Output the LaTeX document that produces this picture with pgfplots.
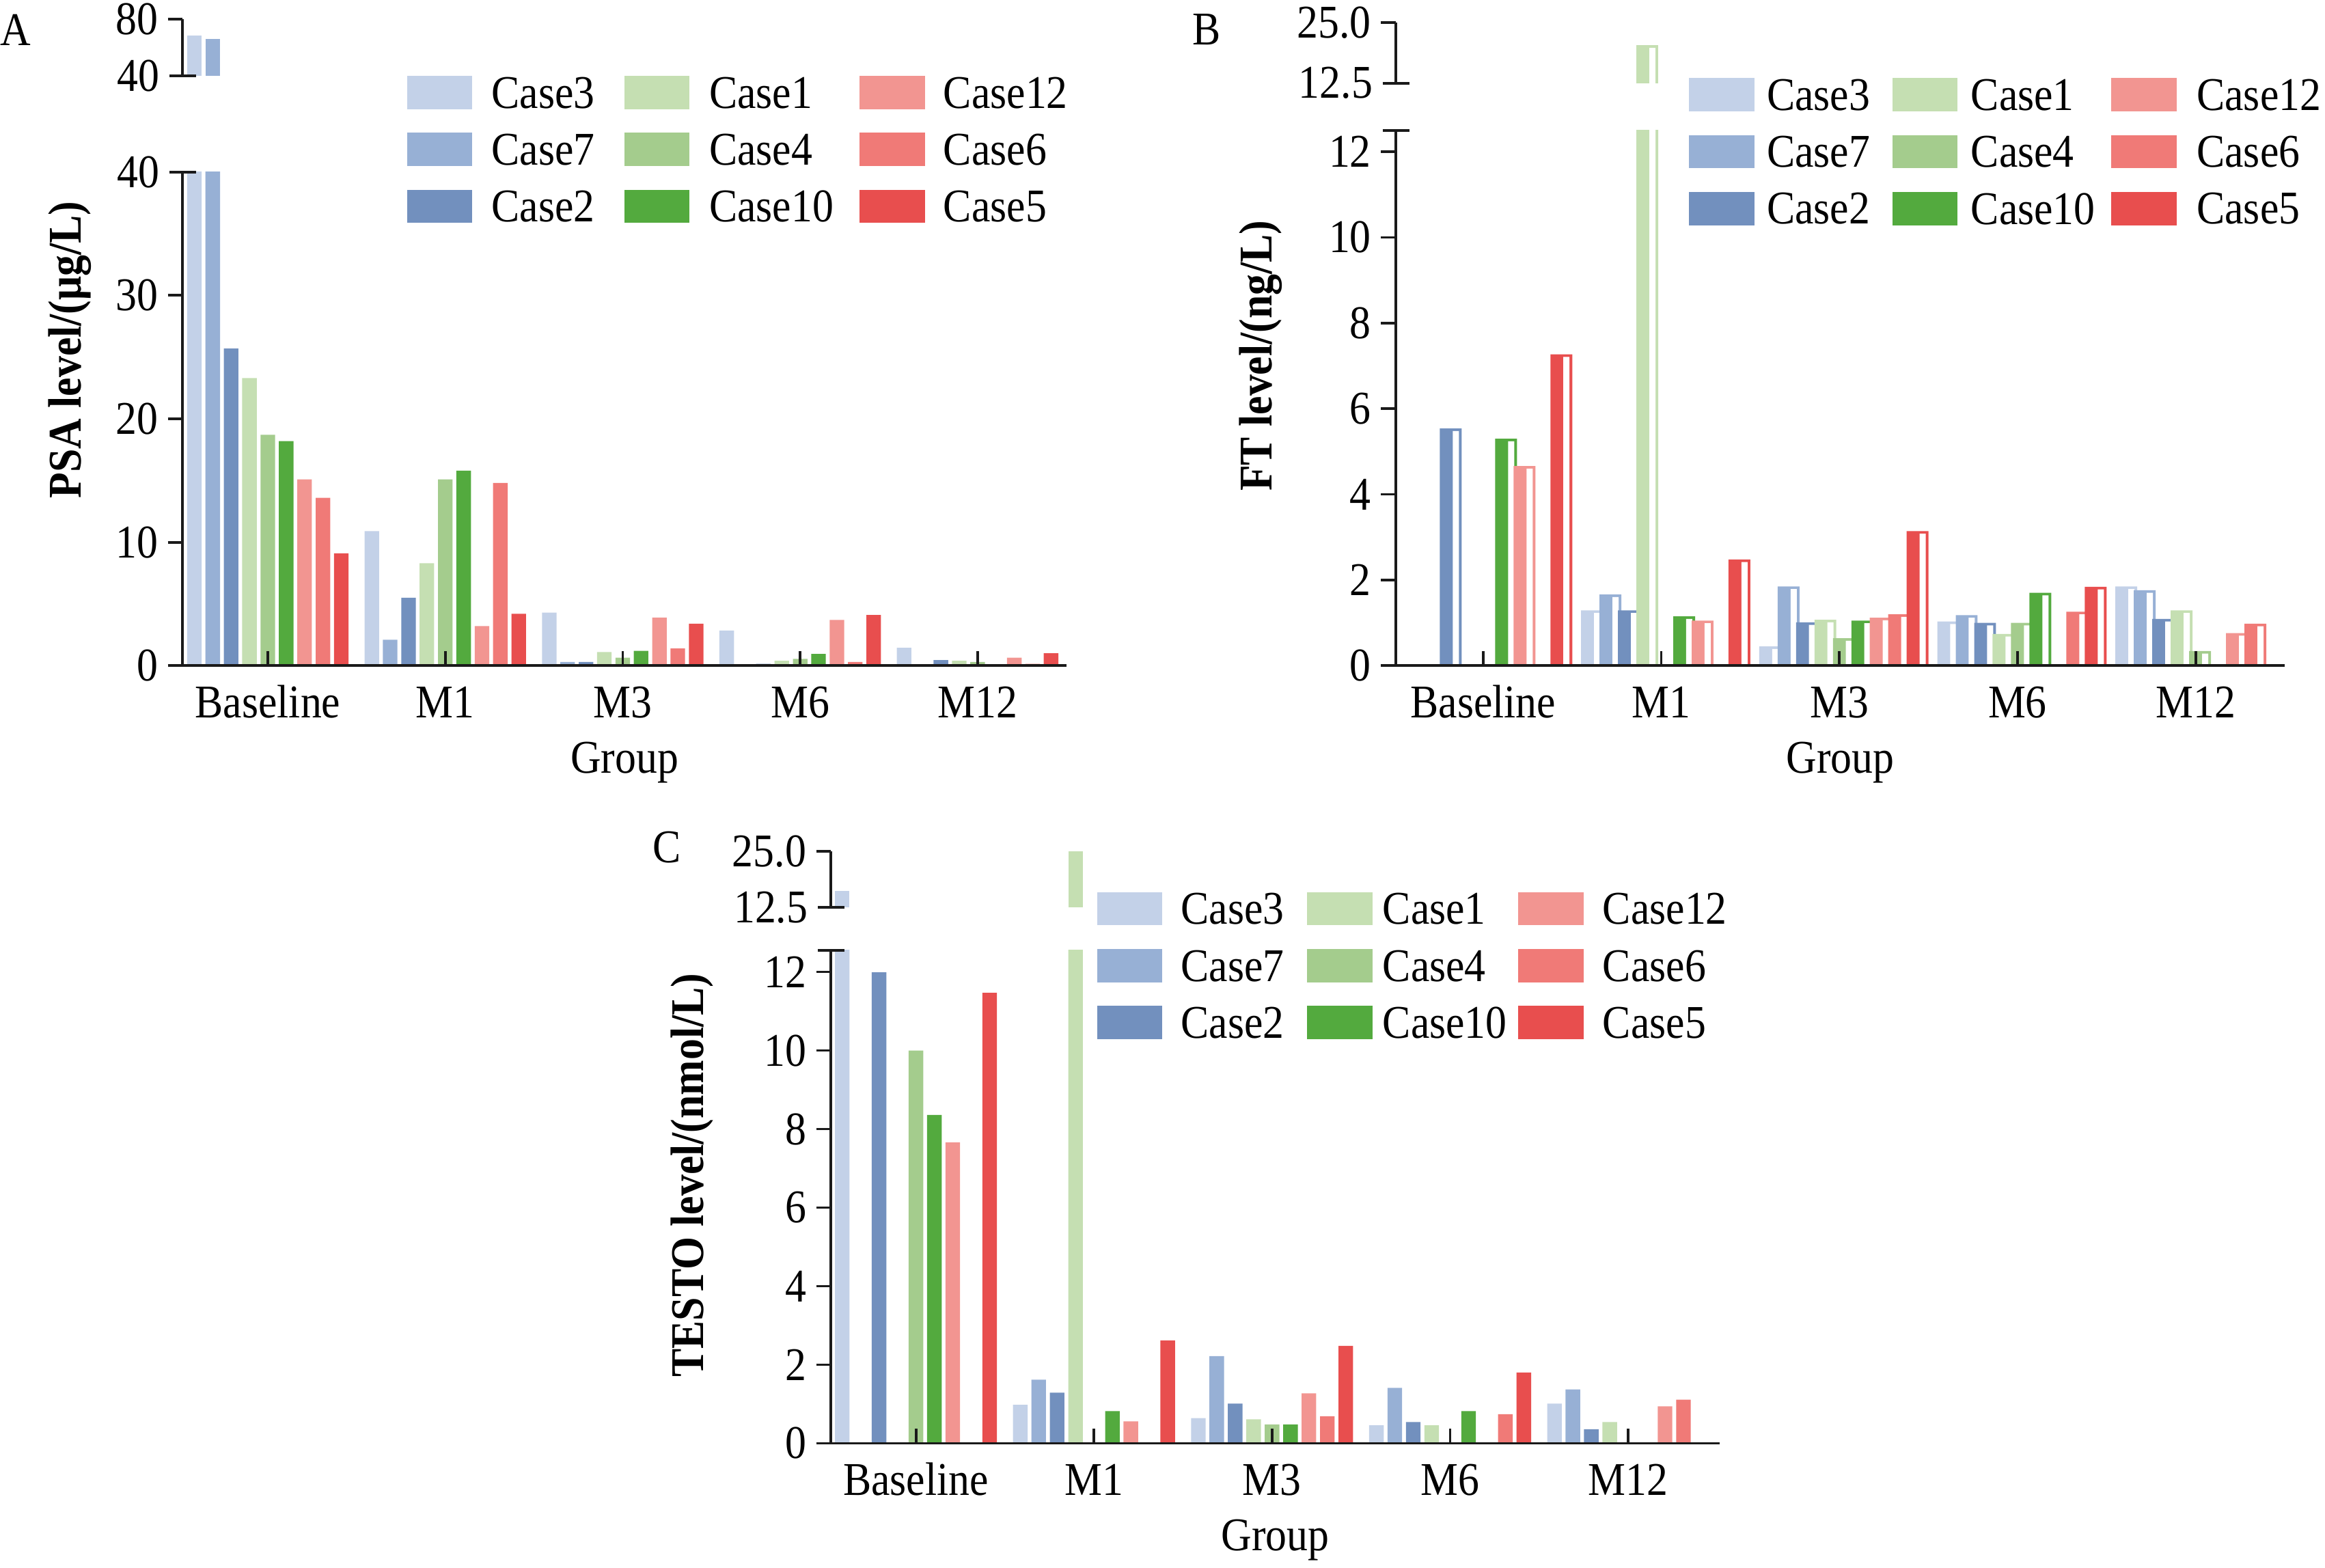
\documentclass[border=0pt]{standalone}
\usepackage{fontspec}
\setmainfont{Liberation Serif}[FakeStretch=0.9]
\usepackage{pgfplots}
\pgfplotsset{compat=1.18}
\definecolor{cA}{RGB}{195,209,232}% Case3
\definecolor{cB}{RGB}{151,176,213}% Case7
\definecolor{cC}{RGB}{114,144,190}% Case2
\definecolor{cD}{RGB}{197,223,178}% Case1
\definecolor{cE}{RGB}{164,204,141}% Case4
\definecolor{cF}{RGB}{83,170,62}%   Case10
\definecolor{cG}{RGB}{242,149,145}% Case12
\definecolor{cH}{RGB}{240,122,119}% Case6
\definecolor{cI}{RGB}{232,78,78}%   Case5
\definecolor{axc}{RGB}{26,26,26}
\newcommand\fs{\fontsize{9}{10.8}\selectfont}
\pgfplotsset{
 base/.style={scale only axis, enlargelimits=false, clip=true, font=\fs,
   axis on top,
   axis line style={line width=0.5pt, axc},
   tick style={line width=0.5pt, axc},
   major tick length=0.1cm,
   /pgf/number format/assume math mode=true,
   yticklabel style={inner xsep=0.06cm},
   ytick align=outside, xtick align=inside,
   extra y tick style={tick align=center, major tick length=0.18cm}},
 lower/.style={axis x line*=bottom, axis y line*=left,
   xtick={0,1,2,3,4}, xticklabels={Baseline,M1,M3,M6,M12},
   xticklabel style={anchor=base, yshift=-0.35cm},
   xlabel={Group},
   xlabel style={at={(axis description cs:0.5,0)}, anchor=base, yshift=-0.725cm},
   legend columns=3, transpose legend, legend cell align=left},
 upper/.style={axis x line=none, axis y line*=left, xtick=\empty},
 sw/.style={legend image code/.code={\fill[##1] (0cm,-0.112cm) rectangle (0.44cm,0.112cm);}},
 bb/.style 2 args={ybar, bar width=0.082, bar shift=#1, fill=#2, draw=none, sw},
 bc/.style 2 args={ybar, bar width=0.1226, bar shift=#1, fill=#2, draw=none, sw},
 bw/.style={ybar, bar width=0.0345, bar shift=#1, fill=white, draw=none, forget plot},
 lg/.style n args={7}{legend style={at={(axis description cs:#1,#2)}, anchor=north west,
   draw=none, fill=none, inner sep=0pt, outer sep=0pt, row sep=0.16cm, font=\fs,
   nodes={inner sep=0pt, text depth=0pt},
   /tikz/column 1/.style={column sep=#3},
   /tikz/column 2/.style={column sep=#4},
   /tikz/column 3/.style={column sep=#5},
   /tikz/column 4/.style={column sep=#6},
   /tikz/column 5/.style={column sep=#7}}},
}
\begin{document}
\begin{tikzpicture}
\useasboundingbox (0,0) rectangle (15.682,10.576);
\node[font=\fs] at (0.107,10.376) {A};
\node[font=\fs] at (8.137,10.376) {B};
\node[font=\fs] at (4.497,4.860) {C};

% ---------------- Panel A ----------------
\begin{axis}[base, lower, at={(1.232cm,6.086cm)}, anchor=south west,
  width=5.96cm, height=3.33cm, xmin=-0.48, xmax=4.5, ymin=0, ymax=40,
  ytick={0,10,20,30}, extra y ticks={40},
  ylabel={\bfseries PSA level/(μg/L)},
  ylabel style={at={(axis description cs:-0.1275,0.6396)}, anchor=center},
  lg={0.254}{1.1946}{0.13cm}{0.20cm}{0.133cm}{0.175cm}{0.126cm}]
\addplot[bb={-0.414}{cA}] coordinates {(0,68.5)(1,10.9)(2,4.3)(3,2.85)(4,1.45)};
\addlegendentry{Case3}
\addplot[bb={-0.3105}{cB}] coordinates {(0,66)(1,2.1)(2,0.3)(3,0.1)(4,0.1)};
\addlegendentry{Case7}
\addplot[bb={-0.207}{cC}] coordinates {(0,25.7)(1,5.5)(2,0.3)(3,0.15)(4,0.45)};
\addlegendentry{Case2}
\addplot[bb={-0.1035}{cD}] coordinates {(0,23.3)(1,8.3)(2,1.1)(3,0.4)(4,0.4)};
\addlegendentry{Case1}
\addplot[bb={0}{cE}] coordinates {(0,18.7)(1,15.1)(2,0.65)(3,0.55)(4,0.3)};
\addlegendentry{Case4}
\addplot[bb={0.1035}{cF}] coordinates {(0,18.2)(1,15.8)(2,1.2)(3,0.95)};
\addlegendentry{Case10}
\addplot[bb={0.207}{cG}] coordinates {(0,15.1)(1,3.2)(2,3.9)(3,3.7)(4,0.65)};
\addlegendentry{Case12}
\addplot[bb={0.3105}{cH}] coordinates {(0,13.6)(1,14.8)(2,1.4)(3,0.3)(4,0.15)};
\addlegendentry{Case6}
\addplot[bb={0.414}{cI}] coordinates {(0,9.1)(1,4.2)(2,3.4)(3,4.1)(4,1.0)};
\addlegendentry{Case5}
\end{axis}
\begin{axis}[base, upper, at={(1.232cm,10.066cm)}, anchor=south west,
  width=5.96cm, height=0.38cm, xmin=-0.48, xmax=4.5, ymin=40, ymax=80,
  ytick={80}, extra y ticks={40}]
\addplot[bb={-0.414}{cA}] coordinates {(0,68.5)};
\addplot[bb={-0.3105}{cB}] coordinates {(0,66)};
\end{axis}

% ---------------- Panel B ----------------
\begin{axis}[base, lower, at={(9.415cm,6.086cm)}, anchor=south west,
  width=5.995cm, height=3.611cm, xmin=-0.49, xmax=4.5, ymin=0, ymax=12.5,
  ytick={0,2,...,12}, extra y ticks={12.5}, extra y tick labels={},
  ylabel={\bfseries FT level/(ng/L)},
  ylabel style={at={(axis description cs:-0.1519,0.5788)}, anchor=center},
  lg={0.3300}{1.0975}{0.085cm}{0.15cm}{0.09cm}{0.108cm}{0.137cm}]
\addplot[bc={-0.389}{cA}] coordinates {(1,1.29)(2,0.45)(3,1.03)(4,1.85)};
\addlegendentry{Case3}
\addplot[bw={-0.3604}] coordinates {(1,1.23)(2,0.39)(3,0.97)(4,1.79)};
\addplot[bc={-0.2855}{cB}] coordinates {(1,1.66)(2,1.85)(3,1.18)(4,1.76)};
\addlegendentry{Case7}
\addplot[bw={-0.2569}] coordinates {(1,1.60)(2,1.79)(3,1.12)(4,1.70)};
\addplot[bc={-0.182}{cC}] coordinates {(0,5.54)(1,1.29)(2,1.01)(3,1.0)(4,1.09)};
\addlegendentry{Case2}
\addplot[bw={-0.1534}] coordinates {(0,5.48)(1,1.23)(2,0.95)(3,0.94)(4,1.03)};
\addplot[bc={-0.0785}{cD}] coordinates {(1,20.3)(2,1.07)(3,0.74)(4,1.29)};
\addlegendentry{Case1}
\addplot[bw={-0.0499}] coordinates {(1,19.7)(2,1.01)(3,0.68)(4,1.23)};
\addplot[bc={0.025}{cE}] coordinates {(2,0.64)(3,1.0)(4,0.34)};
\addlegendentry{Case4}
\addplot[bw={0.0536}] coordinates {(2,0.58)(3,0.94)(4,0.28)};
\addplot[bc={0.1285}{cF}] coordinates {(0,5.30)(1,1.15)(2,1.05)(3,1.70)};
\addlegendentry{Case10}
\addplot[bw={0.1571}] coordinates {(0,5.24)(1,1.09)(2,0.99)(3,1.64)};
\addplot[bc={0.232}{cG}] coordinates {(0,4.66)(1,1.05)(2,1.12)(4,0.76)};
\addlegendentry{Case12}
\addplot[bw={0.2606}] coordinates {(0,4.60)(1,0.99)(2,1.06)(4,0.70)};
\addplot[bc={0.3355}{cH}] coordinates {(2,1.2)(3,1.26)(4,0.98)};
\addlegendentry{Case6}
\addplot[bw={0.3641}] coordinates {(2,1.14)(3,1.20)(4,0.92)};
\addplot[bc={0.439}{cI}] coordinates {(0,7.27)(1,2.48)(2,3.14)(3,1.84)};
\addlegendentry{Case5}
\addplot[bw={0.4676}] coordinates {(0,7.21)(1,2.42)(2,3.08)(3,1.78)};
\end{axis}
\begin{axis}[base, upper, at={(9.415cm,10.015cm)}, anchor=south west,
  width=5.995cm, height=0.409cm, xmin=-0.49, xmax=4.5, ymin=12.5, ymax=25,
  ytick={25}, yticklabels={25.0}, extra y ticks={12.5}, extra y tick labels={12.5}]
\addplot[bc={-0.0785}{cD}] coordinates {(1,20.3)};
\addplot[bw={-0.0499}] coordinates {(1,19.75)};
\end{axis}

% ---------------- Panel C ----------------
\begin{axis}[base, lower, at={(5.605cm,0.841cm)}, anchor=south west,
  width=5.993cm, height=3.325cm, xmin=-0.477, xmax=4.513, ymin=0, ymax=12.55,
  ytick={0,2,...,12}, extra y ticks={12.55}, extra y tick labels={},
  ylabel={\bfseries TESTO level/(nmol/L)},
  ylabel style={at={(axis description cs:-0.156,0.5438)}, anchor=center},
  lg={0.2995}{1.1182}{0.125cm}{0.156cm}{0.07cm}{0.075cm}{0.131cm}]
\addplot[bb={-0.414}{cA}] coordinates {(0,16.1)(1,0.98)(2,0.64)(3,0.46)(4,1.01)};
\addlegendentry{Case3}
\addplot[bb={-0.3105}{cB}] coordinates {(1,1.62)(2,2.22)(3,1.41)(4,1.37)};
\addlegendentry{Case7}
\addplot[bb={-0.207}{cC}] coordinates {(0,11.99)(1,1.29)(2,1.01)(3,0.54)(4,0.36)};
\addlegendentry{Case2}
\addplot[bb={-0.1035}{cD}] coordinates {(1,25)(2,0.61)(3,0.46)(4,0.54)};
\addlegendentry{Case1}
\addplot[bb={0}{cE}] coordinates {(0,10.0)(2,0.48)};
\addlegendentry{Case4}
\addplot[bb={0.1035}{cF}] coordinates {(0,8.36)(1,0.82)(2,0.48)(3,0.82)};
\addlegendentry{Case10}
\addplot[bb={0.207}{cG}] coordinates {(0,7.66)(1,0.56)(2,1.27)(4,0.94)};
\addlegendentry{Case12}
\addplot[bb={0.3105}{cH}] coordinates {(2,0.69)(3,0.74)(4,1.11)};
\addlegendentry{Case6}
\addplot[bb={0.414}{cI}] coordinates {(0,11.47)(1,2.62)(2,2.48)(3,1.80)};
\addlegendentry{Case5}
\end{axis}
\begin{axis}[base, upper, at={(5.605cm,4.457cm)}, anchor=south west,
  width=5.993cm, height=0.377cm, xmin=-0.477, xmax=4.513, ymin=12.5, ymax=25,
  ytick={25}, yticklabels={25.0}, extra y ticks={12.5}, extra y tick labels={12.5}]
\addplot[bb={-0.414}{cA}] coordinates {(0,16.1)};
\addplot[bb={-0.1035}{cD}] coordinates {(1,25)};
\end{axis}
\end{tikzpicture}
\end{document}
